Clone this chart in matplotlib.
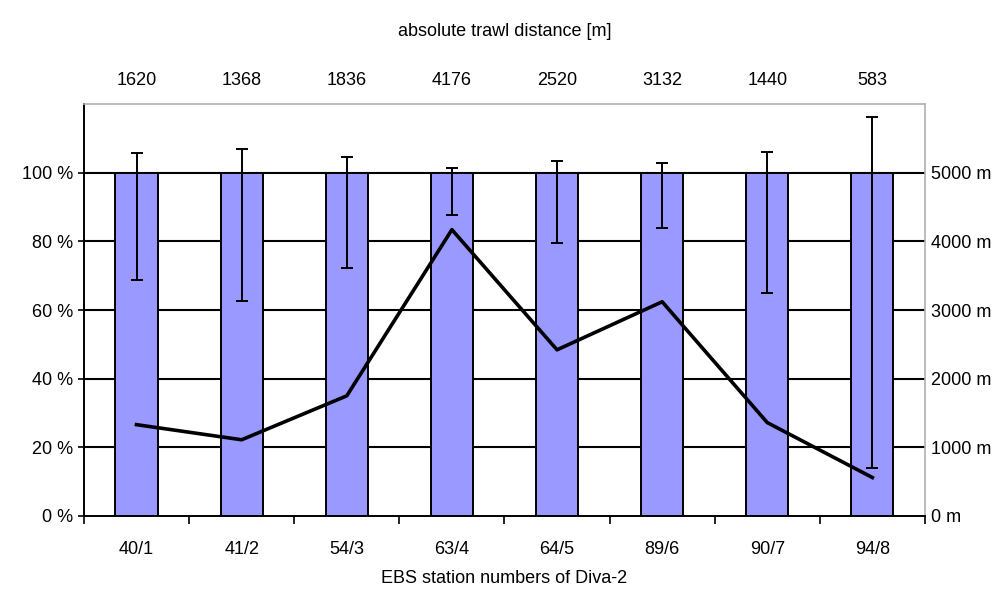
import matplotlib.pyplot as plt
import numpy as np

plt.rcParams['font.family'] = ['Liberation Sans', 'DejaVu Sans']

stations = ['40/1', '41/2', '54/3', '63/4', '64/5', '89/6', '90/7', '94/8']
trawl_labels = ['1620', '1368', '1836', '4176', '2520', '3132', '1440', '583']
share = [100, 100, 100, 100, 100, 100, 100, 100]
err_up = [5.8, 7.0, 4.7, 1.5, 3.5, 2.9, 6.0, 16.3]
err_down = [31.2, 37.3, 27.7, 12.2, 20.4, 16.0, 35.0, 86.0]
distance_m = [1330, 1110, 1750, 4170, 2420, 3120, 1360, 560]

x = np.arange(len(stations))

fig = plt.figure(figsize=(10.03, 5.92), dpi=100)
ax = fig.add_axes([0.0837, 0.1284, 0.8385, 0.6959])

# gridlines behind the bars
for v in [20, 40, 60, 80, 100]:
    ax.axhline(v, color='black', lw=1.5, zorder=1)

ax.bar(x, share, width=0.4, color='#9999ff', edgecolor='black', linewidth=1.4, zorder=2)
ax.errorbar(x, share, yerr=[err_down, err_up], fmt='none', ecolor='black',
            elinewidth=1.4, capsize=4.5, capthick=1.4, zorder=4)

ax.set_xlim(-0.5, len(stations) - 0.5)
ax.set_ylim(0, 120)
ax.set_yticks([0, 20, 40, 60, 80, 100])
ax.set_yticklabels([f'{v} %' for v in [0, 20, 40, 60, 80, 100]])
ax.tick_params(axis='y', length=4, width=1.2, pad=4, labelsize=13)

ax.set_xticks(x)
ax.set_xticklabels(stations)
ax.set_xticks(np.arange(-0.5, len(stations)), minor=True)
ax.tick_params(axis='x', which='major', length=0, pad=18, labelsize=13)
ax.tick_params(axis='x', which='minor', length=6, width=1.2)
ax.set_xlabel('EBS station numbers of Diva-2', fontsize=13, labelpad=9)

for side in ['top', 'right']:
    ax.spines[side].set_color('#b0b0b0')
    ax.spines[side].set_linewidth(1.2)
for side in ['left', 'bottom']:
    ax.spines[side].set_linewidth(1.4)

ax2 = ax.twinx()
ax2.plot(x, distance_m, color='black', lw=2.6, zorder=5)
ax2.set_ylim(0, 6000)
ax2.set_yticks([0, 1000, 2000, 3000, 4000, 5000])
ax2.set_yticklabels([f'{v} m' for v in [0, 1000, 2000, 3000, 4000, 5000]])
ax2.tick_params(axis='y', length=0, pad=4, labelsize=13)
for s in ax2.spines.values():
    s.set_visible(False)

ax3 = ax.twiny()
ax3.set_xlim(ax.get_xlim())
ax3.set_xticks(x)
ax3.set_xticklabels(trawl_labels)
ax3.tick_params(axis='x', length=0, pad=11, labelsize=13)
ax3.set_xlabel('absolute trawl distance [m]', fontsize=13, labelpad=26)
for s in ax3.spines.values():
    s.set_visible(False)

fig.savefig('out.png', dpi=100)
